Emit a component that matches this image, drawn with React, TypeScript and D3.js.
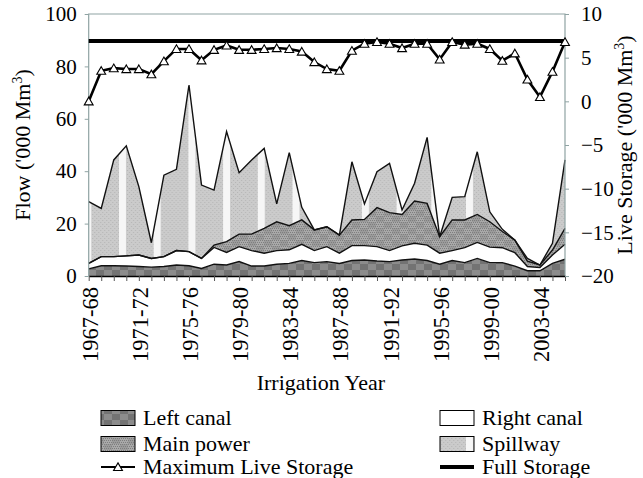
import * as d3 from "d3";
import { useEffect, useRef } from "react";

// irrigation years 1967-68 .. 2005-06
const years = [
  "1967-68", "1968-69", "1969-70", "1970-71", "1971-72", "1972-73", "1973-74", "1974-75",
  "1975-76", "1976-77", "1977-78", "1978-79", "1979-80", "1980-81", "1981-82", "1982-83",
  "1983-84", "1984-85", "1985-86", "1986-87", "1987-88", "1988-89", "1989-90", "1990-91",
  "1991-92", "1992-93", "1993-94", "1994-95", "1995-96", "1996-97", "1997-98", "1998-99",
  "1999-00", "2000-01", "2001-02", "2002-03", "2003-04", "2004-05", "2005-06",
];
const yearLabels = [
  "1967-68", "1971-72", "1975-76", "1979-80", "1983-84",
  "1987-88", "1991-92", "1995-96", "1999-00", "2003-04",
];

// flows, '000 Mm3 (stacked)
const leftCanal = [
  2.7, 3.9, 3.9, 3.8, 3.6, 3.4, 3.6, 4.2, 3.9, 2.9, 4.5, 4.2, 5.5, 3.8, 3.8, 4.5, 4.8, 5.9, 5.1, 5.5,
  4.8, 5.9, 6.1, 5.7, 5.5, 6.1, 6.5, 5.9, 4.5, 5.9, 5.1, 6.7, 5.1, 5.1, 3.8, 2.0, 2.0, 4.8, 6.4,
];
const rightCanal = [
  2.1, 3.5, 3.5, 3.9, 4.4, 3.3, 3.8, 5.5, 5.4, 3.8, 6.4, 4.8, 5.7, 5.9, 4.9, 5.2, 5.2, 6.2, 4.6, 5.7,
  3.9, 5.7, 5.5, 5.5, 4.2, 5.4, 6.0, 5.9, 4.2, 3.8, 5.7, 6.1, 5.9, 5.7, 5.1, 1.6, 1.2, 3.2, 5.7,
];
const mainPower = [
  0, 0, 0, 0, 0, 0, 0, 0, 0, 0, 0.9, 4.1, 4.8, 6.3, 9.5, 11.0, 9.2, 9.3, 7.9, 7.6,
  6.9, 9.8, 10.0, 14.9, 14.5, 12.0, 16.1, 15.9, 6.3, 11.7, 10.6, 10.7, 9.7, 6.2, 4.8, 2.1, 1.0, 1.9, 6.1,
];
const spillway = [
  23.6, 18.4, 36.9, 42.0, 26.1, 6.0, 31.1, 31.0, 63.6, 28.0, 21.0, 42.0, 23.4, 28.3, 30.5, 6.8, 27.9, 4.8, 0, 0,
  0, 22.2, 5.9, 13.7, 18.8, 1.7, 6.8, 25.2, 0, 8.6, 8.9, 23.9, 3.8, 0.8, 0, 1.0, 0, 2.6, 26.1,
];
// storage, '000 Mm3
const maxLiveStorage = [
  0.0, 3.5, 3.8, 3.7, 3.7, 3.1, 4.6, 6.0, 6.0, 4.7, 5.9, 6.4, 5.9, 5.9, 6.0, 6.1, 6.0, 5.7, 4.5, 3.7,
  3.5, 5.8, 6.6, 6.8, 6.6, 6.1, 6.6, 6.6, 4.8, 6.8, 6.5, 6.6, 6.0, 4.65, 5.5, 2.5, 0.5, 3.4, 6.8,
];
const fullStorage = 6.9;

const flowTicks = [0, 20, 40, 60, 80, 100];
const storageTicks = [-20, -15, -10, -5, 0, 5, 10];

const keys = ["left", "right", "main", "spill"];

const FONT = "'Liberation Serif', 'Times New Roman', serif";

const App = () => {
  const svgRef = useRef<SVGSVGElement | null>(null);

  useEffect(() => {
    const W = 643;
    const H = 478;
    const plot = { left: 88.7, right: 565, top: 14, bottom: 276 };

    const svg = d3.select(svgRef.current);
    svg.selectAll("*").remove();
    svg.attr("width", W).attr("height", H);

    const x = d3
      .scalePoint<string>()
      .domain(years)
      .range([plot.left, plot.right]);
    const yFlow = d3.scaleLinear().domain([0, 100]).range([plot.bottom, plot.top]);
    const yStore = d3.scaleLinear().domain([-20, 10]).range([plot.bottom, plot.top]);

    // patterns
    const defs = svg.append("defs");

    const pLeft = defs
      .append("pattern")
      .attr("id", "pat-left")
      .attr("patternUnits", "userSpaceOnUse")
      .attr("width", 16)
      .attr("height", 12);
    pLeft.append("rect").attr("width", 16).attr("height", 12).attr("fill", "#737373");
    pLeft.append("rect").attr("width", 8).attr("height", 6).attr("fill", "#8c8c8c");
    pLeft.append("rect").attr("x", 8).attr("y", 6).attr("width", 8).attr("height", 6).attr("fill", "#8c8c8c");

    const pMain = defs
      .append("pattern")
      .attr("id", "pat-main")
      .attr("patternUnits", "userSpaceOnUse")
      .attr("width", 16)
      .attr("height", 12);
    pMain.append("rect").attr("width", 16).attr("height", 12).attr("fill", "#9b9b9b");
    pMain.append("rect").attr("width", 8).attr("height", 6).attr("fill", "#a9a9a9");
    pMain.append("rect").attr("x", 8).attr("y", 6).attr("width", 8).attr("height", 6).attr("fill", "#a9a9a9");
    for (let i = 0; i < 8; i++) {
      for (let j = 0; j < 6; j++) {
        pMain
          .append("rect")
          .attr("x", i * 2 + (j % 2))
          .attr("y", j * 2)
          .attr("width", 1)
          .attr("height", 1)
          .attr("fill", "#7e7e7e");
      }
    }

    const pSpill = defs
      .append("pattern")
      .attr("id", "pat-spill")
      .attr("patternUnits", "userSpaceOnUse")
      .attr("x", 119)
      .attr("width", 34.7)
      .attr("height", 4);
    pSpill.append("rect").attr("width", 34.7).attr("height", 4).attr("fill", "#cbcbcb");
    for (let i = 0; i < 17; i++) {
      pSpill
        .append("rect")
        .attr("x", 8 + i * 2)
        .attr("y", i % 2 ? 0 : 2)
        .attr("width", 1)
        .attr("height", 1)
        .attr("fill", "#b4b4b4");
    }
    pSpill.append("rect").attr("width", 7).attr("height", 4).attr("fill", "#f6f6f6");

    const fills: Record<string, string> = {
      left: "url(#pat-left)",
      right: "#ffffff",
      main: "url(#pat-main)",
      spill: "url(#pat-spill)",
    };

    const rows = years.map((yr, i) => ({
      year: yr,
      left: leftCanal[i],
      right: rightCanal[i],
      main: mainPower[i],
      spill: spillway[i],
    }));

    const stacked = d3.stack<(typeof rows)[number]>().keys(keys)(rows);

    const area = d3
      .area<d3.SeriesPoint<(typeof rows)[number]>>()
      .x((d) => x(d.data.year)!)
      .y0((d) => yFlow(d[0]))
      .y1((d) => yFlow(d[1]));

    const topLine = d3
      .line<d3.SeriesPoint<(typeof rows)[number]>>()
      .x((d) => x(d.data.year)!)
      .y((d) => yFlow(d[1]));

    svg
      .append("g")
      .selectAll("path")
      .data(stacked)
      .join("path")
      .attr("d", area)
      .attr("fill", (d) => fills[d.key]);

    svg
      .append("g")
      .selectAll("path")
      .data(stacked)
      .join("path")
      .attr("d", topLine)
      .attr("fill", "none")
      .attr("stroke", "#111")
      .attr("stroke-width", 1.4);

    // plot frame
    svg
      .append("path")
      .attr("d", `M${plot.left},${plot.bottom}V${plot.top}H${plot.right}V${plot.bottom}`)
      .attr("fill", "none")
      .attr("stroke", "#8fa3a3")
      .attr("stroke-width", 1.2);

    // full storage
    svg
      .append("line")
      .attr("x1", plot.left)
      .attr("x2", plot.right)
      .attr("y1", yStore(fullStorage))
      .attr("y2", yStore(fullStorage))
      .attr("stroke", "#000")
      .attr("stroke-width", 4);

    // maximum live storage
    const storeLine = d3
      .line<number>()
      .x((_, i) => x(years[i])!)
      .y((d) => yStore(d));
    svg
      .append("path")
      .datum(maxLiveStorage)
      .attr("d", storeLine)
      .attr("fill", "none")
      .attr("stroke", "#000")
      .attr("stroke-width", 2.6);

    const tri = d3.symbol().type(d3.symbolTriangle).size(34);
    svg
      .append("g")
      .selectAll("path")
      .data(maxLiveStorage)
      .join("path")
      .attr("d", tri)
      .attr("transform", (d, i) => `translate(${x(years[i])},${yStore(d) + 1})`)
      .attr("fill", "#fff")
      .attr("stroke", "#000")
      .attr("stroke-width", 1.1);

    // axes
    const gx = svg
      .append("g")
      .attr("transform", `translate(0,${plot.bottom})`)
      .call(d3.axisBottom(x).tickSize(5).tickSizeOuter(0).tickFormat(() => ""));
    gx.select(".domain").attr("stroke", "#000").attr("stroke-width", 1.4);
    gx.selectAll(".tick line").attr("stroke", "#555");

    svg
      .append("g")
      .selectAll("text")
      .data(yearLabels)
      .join("text")
      .attr("transform", (d) => `translate(${x(d)! + 9},${plot.bottom + 11}) rotate(-90)`)
      .attr("text-anchor", "end")
      .style("font-family", FONT)
      .style("font-size", "22.5px")
      .text((d) => d);

    const gl = svg
      .append("g")
      .attr("transform", `translate(${plot.left},0)`)
      .call(d3.axisLeft(yFlow).tickValues(flowTicks).tickSize(4).tickPadding(8).tickSizeOuter(0));
    gl.select(".domain").remove();
    gl.selectAll(".tick line").attr("stroke", "#8fa3a3");
    gl.selectAll("text").style("font-family", FONT).style("font-size", "21px").attr("fill", "#000");

    const gr = svg
      .append("g")
      .attr("transform", `translate(${plot.right},0)`)
      .call(d3.axisRight(yStore).tickValues(storageTicks).tickSize(4).tickPadding(12).tickSizeOuter(0));
    gr.select(".domain").remove();
    gr.selectAll(".tick line").attr("stroke", "#8fa3a3");
    gr.selectAll("text").style("font-family", FONT).style("font-size", "21px").attr("fill", "#000");

    // titles
    const leftTitle = svg
      .append("text")
      .attr("transform", `translate(30,${(plot.top + plot.bottom) / 2}) rotate(-90)`)
      .attr("text-anchor", "middle")
      .style("font-family", FONT)
      .style("font-size", "22px");
    leftTitle.append("tspan").text("Flow ('000 Mm");
    leftTitle.append("tspan").attr("dy", -8).style("font-size", "14px").text("3");
    leftTitle.append("tspan").attr("dy", 8).text(")");

    const rightTitle = svg
      .append("text")
      .attr("transform", `translate(632,${(plot.top + plot.bottom) / 2}) rotate(-90)`)
      .attr("text-anchor", "middle")
      .style("font-family", FONT)
      .style("font-size", "22px");
    rightTitle.append("tspan").text("Live Storage ('000 Mm");
    rightTitle.append("tspan").attr("dy", -8).style("font-size", "14px").text("3");
    rightTitle.append("tspan").attr("dy", 8).text(")");

    svg
      .append("text")
      .attr("x", (plot.left + plot.right) / 2 - 6)
      .attr("y", 390)
      .attr("text-anchor", "middle")
      .style("font-family", FONT)
      .style("font-size", "22px")
      .text("Irrigation Year");

    // legend
    const legendItems = [
      { label: "Left canal", kind: "box", fill: fills.left, col: 0, row: 0 },
      { label: "Right canal", kind: "box", fill: fills.right, col: 1, row: 0 },
      { label: "Main power", kind: "box", fill: fills.main, col: 0, row: 1 },
      { label: "Spillway", kind: "box", fill: fills.spill, col: 1, row: 1 },
      { label: "Maximum Live Storage", kind: "tri", fill: "", col: 0, row: 2 },
      { label: "Full Storage", kind: "thick", fill: "", col: 1, row: 2 },
    ];
    const colX = [101, 440];
    const rowY = [418, 444, 467];
    const lg = svg.append("g");
    legendItems.forEach((it) => {
      const gx0 = colX[it.col];
      const cy = rowY[it.row];
      if (it.kind === "box") {
        lg.append("rect")
          .attr("x", gx0)
          .attr("y", cy - 7.5)
          .attr("width", 34)
          .attr("height", 15)
          .attr("fill", it.fill)
          .attr("stroke", "#000")
          .attr("stroke-width", 1);
      } else if (it.kind === "tri") {
        lg.append("line")
          .attr("x1", gx0)
          .attr("x2", gx0 + 34)
          .attr("y1", cy)
          .attr("y2", cy)
          .attr("stroke", "#000")
          .attr("stroke-width", 2.2);
        lg.append("path")
          .attr("d", tri)
          .attr("transform", `translate(${gx0 + 17},${cy + 1})`)
          .attr("fill", "#fff")
          .attr("stroke", "#000")
          .attr("stroke-width", 1.1);
      } else {
        lg.append("line")
          .attr("x1", gx0)
          .attr("x2", gx0 + 34)
          .attr("y1", cy)
          .attr("y2", cy)
          .attr("stroke", "#000")
          .attr("stroke-width", 4);
      }
      lg.append("text")
        .attr("x", gx0 + 42)
        .attr("y", cy + 7)
        .style("font-family", FONT)
        .style("font-size", "22px")
        .text(it.label);
    });
  }, []);

  return (
    <div style={{ position: "absolute", left: 0, top: 0, background: "#fff" }}>
      <svg ref={svgRef} style={{ display: "block" }} />
    </div>
  );
};

export default App;
